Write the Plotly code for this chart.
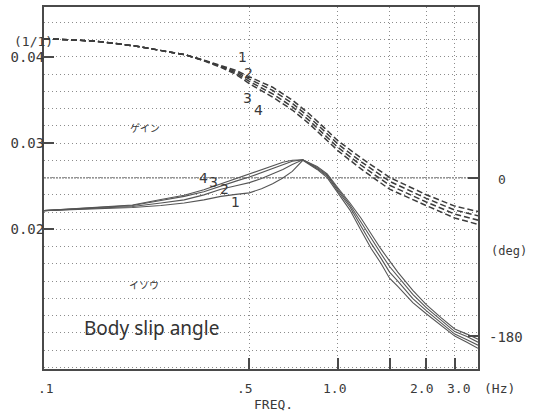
import plotly.graph_objects as go

# ---------------- data ----------------
gain_freq = [0.1, 0.15, 0.2, 0.25, 0.3, 0.35, 0.4, 0.45, 0.5, 0.6, 0.7, 0.8, 0.9, 1.0, 1.2, 1.5, 2.0, 2.5, 3.0]
gain_1 = [0.04213, 0.04184, 0.04132, 0.04075, 0.04029, 0.03963, 0.03902, 0.03845, 0.03770, 0.03649, 0.03500, 0.03339, 0.03178, 0.03029, 0.02828, 0.02603, 0.02402, 0.02270, 0.02207]
gain_2 = [0.04213, 0.04184, 0.04132, 0.04075, 0.04029, 0.03961, 0.03894, 0.03830, 0.03744, 0.03612, 0.03462, 0.03301, 0.03140, 0.02991, 0.02785, 0.02558, 0.02360, 0.02224, 0.02158]
gain_3 = [0.04213, 0.04184, 0.04132, 0.04075, 0.04029, 0.03959, 0.03887, 0.03814, 0.03716, 0.03572, 0.03423, 0.03262, 0.03101, 0.02952, 0.02744, 0.02512, 0.02318, 0.02178, 0.02107]
gain_4 = [0.04213, 0.04184, 0.04132, 0.04075, 0.04029, 0.03957, 0.03879, 0.03799, 0.03690, 0.03535, 0.03385, 0.03224, 0.03063, 0.02914, 0.02701, 0.02466, 0.02276, 0.02132, 0.02058]

phase_freq = [0.1, 0.15, 0.2, 0.25, 0.3, 0.35, 0.4, 0.45, 0.5, 0.55, 0.6, 0.65, 0.7, 0.76, 0.85, 0.92,
              1.0, 1.1, 1.2, 1.3, 1.4, 1.5, 1.6, 1.8, 2.0, 2.25, 2.5, 2.75, 3.0]
phase_1 = [-37.2, -35.4, -33.7, -31.4, -28.5, -25.0, -21.0, -18.7, -17.0, -12.3, -6.6, -0.2, 7.3, 20.0, 9.6, 0.3,
           -17.0, -36.6, -59.7, -80.4, -96.6, -113.9, -123.1, -141.6, -154.3, -168.1, -179.6, -186.6, -193.5]
phase_2 = [-37.2, -34.8, -32.5, -28.5, -25.0, -19.3, -12.9, -8.9, -5.4, -0.8, 4.4, 9.6, 15.3, 20.5, 10.7, 2.1,
           -14.7, -33.1, -55.0, -74.7, -90.8, -107.0, -117.3, -137.0, -150.8, -164.6, -177.4, -183.7, -190.0]
phase_3 = [-37.2, -34.3, -31.4, -25.6, -21.0, -15.8, -8.9, -3.7, 0.9, 6.1, 10.7, 15.3, 18.8, 20.5, 11.9, 3.2,
           -12.9, -30.8, -50.4, -69.5, -85.6, -100.6, -112.1, -132.3, -147.3, -161.8, -174.5, -180.2, -186.6]
phase_4 = [-37.2, -33.7, -30.8, -24.5, -19.8, -13.5, -6.6, -0.8, 4.4, 9.6, 14.2, 17.7, 20.0, 20.5, 13.0, 4.4,
           -11.2, -28.5, -45.8, -64.3, -80.4, -94.3, -107.0, -127.7, -143.9, -158.9, -171.6, -177.4, -183.1]

gain_ticks = [0.02, 0.03, 0.04]
gain_ticktext = ["0.02", "0.03", "0.04"]
freq_gridvals = [0.5, 1.0, 1.5, 2.0, 2.5]
phase_ticks = [0, -180]

# ---------------- figure ----------------
W, H = 544, 415
ML, MR, MT, MB = 44, 66, 5, 46
PW, PH = W - ML - MR, H - MT - MB

def px(x):
    return (x - ML) / PW

def py(y):
    return (H - MB - y) / PH

MONO = "DejaVu Sans Mono"
INK = "#3a3a3a"
LINE = "#4a4a4a"
GRID = "#8c8c8c"
GDASH = "1px,3px"

fig = go.Figure()

for g in [gain_1, gain_2, gain_3, gain_4]:
    fig.add_trace(go.Scatter(x=gain_freq, y=g, mode="lines", yaxis="y",
                             line=dict(color="#3c3c3c", width=1.5, dash="6px,3px"),
                             hoverinfo="skip"))

for p in [phase_1, phase_2, phase_3, phase_4]:
    fig.add_trace(go.Scatter(x=phase_freq, y=p, mode="lines", yaxis="y2",
                             line=dict(color="#555555", width=1.1),
                             hoverinfo="skip"))

fig.update_layout(
    width=W, height=H,
    margin=dict(l=ML, r=MR, t=MT, b=MB),
    paper_bgcolor="white", plot_bgcolor="white",
    showlegend=False,
    xaxis=dict(type="log", range=[-1, 0.47712], tickmode="array", tickvals=freq_gridvals,
               showticklabels=False, ticks="inside", ticklen=11, tickwidth=1.5, tickcolor=LINE,
               showgrid=True, gridcolor=GRID, gridwidth=1, griddash=GDASH,
               showline=True, linecolor=LINE, linewidth=2, mirror=True, zeroline=False),
    yaxis=dict(range=[0.0038, 0.0458], tickmode="array", tickvals=gain_ticks, ticktext=gain_ticktext,
               ticks="inside", ticklen=10, tickwidth=1.5, tickcolor=LINE, ticklabelstandoff=-5,
               tickfont=dict(family=MONO, size=14, color=INK),
               showgrid=True, gridcolor=GRID, gridwidth=1, griddash=GDASH,
               minor=dict(tickmode="linear", tick0=0, dtick=0.002, showgrid=True,
                          gridcolor=GRID, gridwidth=1, griddash=GDASH, ticks=""),
               showline=True, linecolor=LINE, linewidth=2, mirror=True, zeroline=False),
    yaxis2=dict(range=[-217, 194], overlaying="y", side="right", tickmode="array",
                tickvals=phase_ticks, showticklabels=False, ticks="inside", ticklen=10,
                tickwidth=1.5, tickcolor=LINE, showgrid=False, zeroline=False, showline=False),
)

# denser 0-degree reference line
fig.add_shape(type="line", xref="paper", x0=0, x1=1, yref="y2", y0=0, y1=0,
              line=dict(color="#7a7a7a", width=1.2, dash="2px,1px"), layer="below")

ann = []
def text(t, x, y, size=13, family=MONO, color=INK, xanchor="center"):
    ann.append(dict(text=t, x=px(x), y=py(y), xref="paper", yref="paper", showarrow=False,
                    xanchor=xanchor, yanchor="middle", font=dict(family=family, size=size, color=color)))

# axis texts
text("(1/1)", 33, 40, size=13)
text(".1", 46, 389)
text(".5", 245, 389)
text("1.0", 334, 389)
text("2.0", 421, 389)
text("3.0", 458, 389)
text("(Hz)", 500, 389)
text("FREQ.", 273, 405)
text("0", 502, 178, size=13)
text("(deg)", 509, 250, size=12)
text("-180", 506, 337, size=14)

# curve labels (gain)
NUM = "DejaVu Sans"
text("1", 242, 55, size=14, family=NUM)
text("2", 248, 71, size=14, family=NUM)
text("3", 247, 97, size=14, family=NUM)
text("4", 258, 109, size=14, family=NUM)
# curve labels (phase)
text("4", 203, 177, size=14, family=NUM)
text("3", 213, 181, size=14, family=NUM)
text("2", 224, 188, size=14, family=NUM)
text("1", 235, 201, size=14, family=NUM)

# inner captions
text("ゲイン", 145, 126, size=10, family="Noto Sans CJK JP")
text("イソウ", 144, 284, size=10, family="Noto Sans CJK JP")
text("Body slip angle", 151, 328, size=19, family="Noto Sans", color="#333333")

fig.update_layout(annotations=ann)
fig.write_html("out.html")
